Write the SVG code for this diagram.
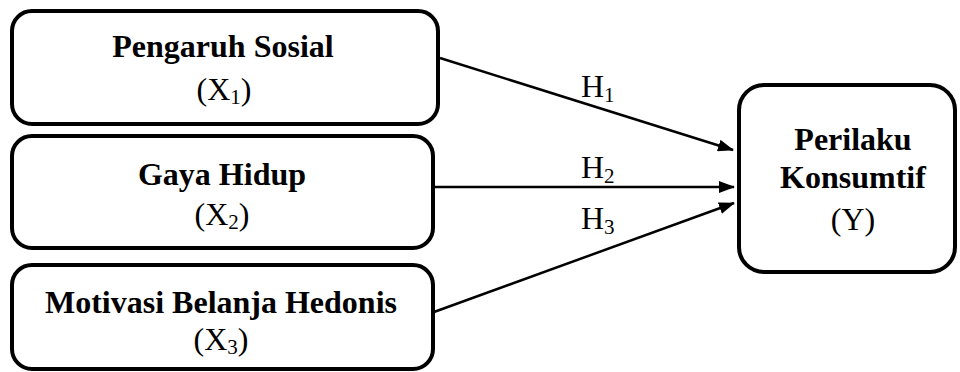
<svg xmlns="http://www.w3.org/2000/svg" width="960" height="372" viewBox="0 0 960 372">
<defs>
<style>
.box{fill:#fff;stroke:#000;stroke-width:4}
.t{font-family:"Liberation Serif","Times New Roman",serif;font-size:32px;fill:#000;text-anchor:middle}
.s{text-anchor:start}
.b{font-weight:bold}
.sub{font-size:21px}
.c{stroke:#000;stroke-width:2.5;fill:none}
</style>
<marker id="ah" markerWidth="16" markerHeight="12" refX="15" refY="6" orient="auto" markerUnits="userSpaceOnUse">
<path d="M0,0 L16,6 L0,12 Z" fill="#000"/>
</marker>
</defs>
<rect width="960" height="372" fill="#fff"/>
<g id="connectors">
<line class="c" x1="440" y1="58" x2="733" y2="150" marker-end="url(#ah)"/>
<line class="c" x1="434" y1="187" x2="734" y2="187" marker-end="url(#ah)"/>
<line class="c" x1="434" y1="312" x2="734" y2="203" marker-end="url(#ah)" stroke="#1a1a10"/>
<text class="t s" x="581" y="97">H<tspan class="sub" dy="5">1</tspan></text>
<text class="t s" x="581" y="178">H<tspan class="sub" dy="5">2</tspan></text>
<text class="t s" x="581" y="229">H<tspan class="sub" dy="5">3</tspan></text>
</g>
<g id="x1">
<rect class="box" x="12" y="11" width="426" height="113" rx="20"/>
<text class="t b" x="223" y="57">Pengaruh Sosial</text>
<text class="t" x="224" y="100">(X<tspan class="sub" dy="4">1</tspan><tspan dy="-4">)</tspan></text>
</g>
<g id="x2">
<rect class="box" x="12" y="136" width="421" height="112" rx="20"/>
<text class="t b" x="222" y="185">Gaya Hidup</text>
<text class="t" x="222" y="225">(X<tspan class="sub" dy="4">2</tspan><tspan dy="-4">)</tspan></text>
</g>
<g id="x3">
<rect class="box" x="12" y="265" width="421" height="104" rx="20"/>
<text class="t b" x="221" y="313">Motivasi Belanja Hedonis</text>
<text class="t" x="221" y="350">(X<tspan class="sub" dy="4">3</tspan><tspan dy="-4">)</tspan></text>
</g>
<g id="y">
<rect class="box" x="739" y="85" width="216" height="187" rx="25"/>
<text class="t b" x="853" y="150">Perilaku</text>
<text class="t b" x="853" y="188">Konsumtif</text>
<text class="t" x="853" y="230">(Y)</text>
</g>
</svg>
